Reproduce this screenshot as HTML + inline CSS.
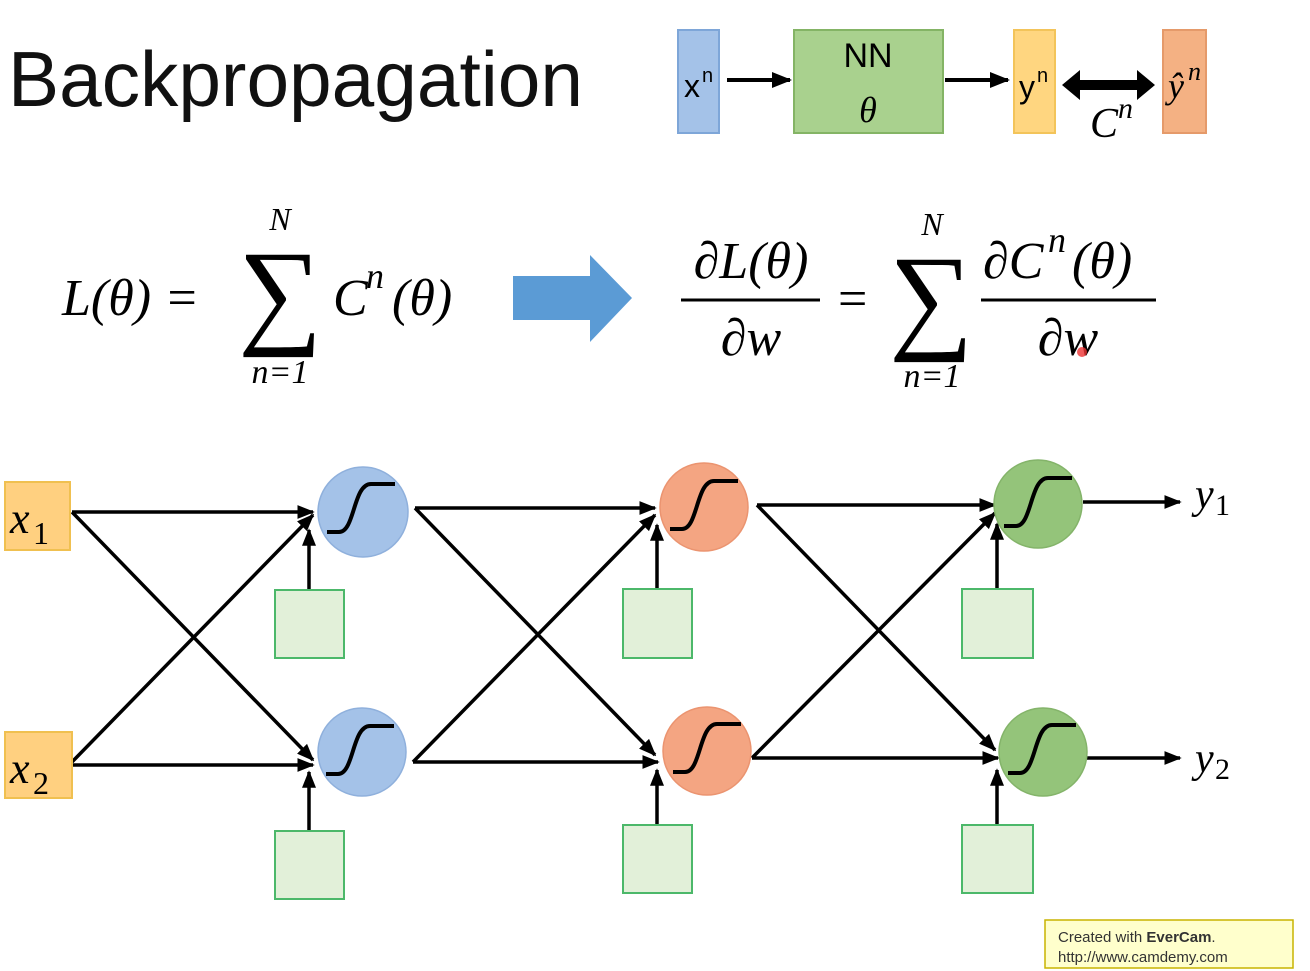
<!DOCTYPE html>
<html><head><meta charset="utf-8"><style>
html,body{margin:0;padding:0;background:#fff;width:1310px;height:971px;overflow:hidden}
svg{display:block}
.m{font-family:"Liberation Serif",serif;font-style:italic}
</style></head><body>
<svg width="1310" height="971" viewBox="0 0 1310 971" xmlns="http://www.w3.org/2000/svg">
<defs>
<marker id="a" viewBox="0 0 10 10" refX="9" refY="5" markerWidth="5" markerHeight="5" orient="auto"><path d="M0,1 L10,5 L0,9 z" fill="#000"/></marker>
<g id="sig"><path d="M-36,22 L-24,22 C-8,22 -10,-26 8,-26 L32,-26" fill="none" stroke="#000" stroke-width="4"/></g>
</defs>
<text x="8" y="106" font-family="Liberation Sans, sans-serif" font-size="78" textLength="575" lengthAdjust="spacingAndGlyphs" fill="#111">Backpropagation</text>

<!-- top diagram -->
<rect x="678" y="30" width="41" height="103" fill="#a4c2e8" stroke="#7ea6d8" stroke-width="2"/>
<text x="684" y="97" font-family="Liberation Sans, sans-serif" font-size="32">x</text><text x="702" y="82" font-family="Liberation Sans, sans-serif" font-size="20">n</text>
<rect x="794" y="30" width="149" height="103" fill="#a9d18e" stroke="#84b465" stroke-width="2"/>
<text x="868" y="67" text-anchor="middle" font-family="Liberation Sans, sans-serif" font-size="34">NN</text>
<text x="868" y="122" text-anchor="middle" class="m" font-size="36">θ</text>
<rect x="1014" y="30" width="41" height="103" fill="#ffd680" stroke="#f3c45a" stroke-width="2"/>
<text x="1019" y="98" font-family="Liberation Sans, sans-serif" font-size="32">y</text><text x="1037" y="82" font-family="Liberation Sans, sans-serif" font-size="20">n</text>
<rect x="1163" y="30" width="43" height="103" fill="#f4b183" stroke="#e59a6a" stroke-width="2"/>
<text x="1168" y="98" class="m" font-size="36">ŷ</text><text x="1188" y="80" class="m" font-size="26">n</text>
<line x1="727" y1="80" x2="790" y2="80" stroke="#000" stroke-width="4" marker-end="url(#a)"/>
<line x1="945" y1="80" x2="1008" y2="80" stroke="#000" stroke-width="4" marker-end="url(#a)"/>
<path d="M1062,85 L1080,70 L1080,80 L1137,80 L1137,70 L1155,85 L1137,100 L1137,90 L1080,90 L1080,100 z" fill="#000"/>
<text x="1090" y="137" class="m" font-size="42">C</text><text x="1118" y="118" class="m" font-size="30">n</text>

<!-- left equation -->
<text x="62" y="315" class="m" font-size="52">L(θ) =</text>
<text x="280" y="230" text-anchor="middle" class="m" font-size="32">N</text>
<text x="280" y="332" text-anchor="middle" font-family="Liberation Serif, serif" font-size="118">∑</text>
<text x="280" y="383" text-anchor="middle" class="m" font-size="34">n=1</text>
<text x="333" y="315" class="m" font-size="52">C</text><text x="366" y="288" class="m" font-size="36">n</text><text x="392" y="315" class="m" font-size="52">(θ)</text>

<!-- blue arrow -->
<path d="M513,276 L590,276 L590,255 L632,298 L590,342 L590,320 L513,320 z" fill="#5b9bd5"/>

<!-- right equation -->
<text x="751" y="278" text-anchor="middle" class="m" font-size="52">∂L(θ)</text>
<line x1="681" y1="300" x2="820" y2="300" stroke="#000" stroke-width="3"/>
<text x="751" y="355" text-anchor="middle" class="m" font-size="52">∂w</text>
<text x="838" y="316" font-family="Liberation Serif, serif" font-size="52">=</text>
<text x="932" y="235" text-anchor="middle" class="m" font-size="32">N</text>
<text x="931" y="337" text-anchor="middle" font-family="Liberation Serif, serif" font-size="118">∑</text>
<text x="932" y="387" text-anchor="middle" class="m" font-size="34">n=1</text>
<text x="983" y="278" class="m" font-size="52">∂C</text><text x="1048" y="252" class="m" font-size="36">n</text><text x="1072" y="278" class="m" font-size="52">(θ)</text>
<line x1="981" y1="300" x2="1156" y2="300" stroke="#000" stroke-width="3"/>
<text x="1068" y="355" text-anchor="middle" class="m" font-size="52">∂w</text>
<circle cx="1082" cy="352" r="5" fill="#e33" opacity="0.8"/>

<!-- network -->
<g stroke="#000" stroke-width="3.5" fill="none" marker-end="url(#a)">
<line x1="72" y1="512" x2="313" y2="512"/>
<line x1="72" y1="512" x2="313" y2="760"/>
<line x1="72" y1="765" x2="313" y2="765"/>
<line x1="72" y1="762" x2="313" y2="515"/>
<line x1="309" y1="590" x2="309" y2="530"/>
<line x1="309" y1="831" x2="309" y2="772"/>
<line x1="415" y1="508" x2="655" y2="508"/>
<line x1="415" y1="508" x2="655" y2="755"/>
<line x1="413" y1="762" x2="658" y2="762"/>
<line x1="413" y1="762" x2="655" y2="515"/>
<line x1="657" y1="589" x2="657" y2="525"/>
<line x1="657" y1="825" x2="657" y2="770"/>
<line x1="757" y1="505" x2="995" y2="505"/>
<line x1="757" y1="505" x2="995" y2="750"/>
<line x1="752" y1="758" x2="998" y2="758"/>
<line x1="752" y1="758" x2="995" y2="513"/>
<line x1="997" y1="589" x2="997" y2="524"/>
<line x1="997" y1="825" x2="997" y2="770"/>
<line x1="1083" y1="502" x2="1180" y2="502"/>
<line x1="1087" y1="758" x2="1180" y2="758"/>
</g>
<rect x="5" y="482" width="65" height="68" fill="#ffd080" stroke="#f0c050" stroke-width="2"/>
<rect x="5" y="732" width="67" height="66" fill="#ffd080" stroke="#f0c050" stroke-width="2"/>
<text x="10" y="533" class="m" font-size="44">x</text><text x="33" y="544" font-family="Liberation Serif, serif" font-size="32">1</text>
<text x="10" y="783" class="m" font-size="44">x</text><text x="33" y="794" font-family="Liberation Serif, serif" font-size="32">2</text>
<g fill="#e2f0d9" stroke="#4cb86a" stroke-width="2">
<rect x="275" y="590" width="69" height="68"/><rect x="275" y="831" width="69" height="68"/>
<rect x="623" y="589" width="69" height="69"/><rect x="623" y="825" width="69" height="68"/>
<rect x="962" y="589" width="71" height="69"/><rect x="962" y="825" width="71" height="68"/>
</g>
<g stroke-width="1.5">
<circle cx="363" cy="512" r="45" fill="#a4c2e8" stroke="#8fb0dc"/>
<circle cx="362" cy="752" r="44" fill="#a4c2e8" stroke="#8fb0dc"/>
<circle cx="704" cy="507" r="44" fill="#f4a582" stroke="#eb9470"/>
<circle cx="707" cy="751" r="44" fill="#f4a582" stroke="#eb9470"/>
<circle cx="1038" cy="504" r="44" fill="#94c47a" stroke="#84b46a"/>
<circle cx="1043" cy="752" r="44" fill="#94c47a" stroke="#84b46a"/>
</g>
<use href="#sig" x="363" y="510"/><use href="#sig" x="362" y="752"/>
<use href="#sig" x="706" y="507"/><use href="#sig" x="709" y="750"/>
<use href="#sig" x="1040" y="504"/><use href="#sig" x="1044" y="751"/>
<text x="1195" y="508" class="m" font-size="42">y</text><text x="1215" y="515" font-family="Liberation Serif, serif" font-size="30">1</text>
<text x="1195" y="772" class="m" font-size="42">y</text><text x="1215" y="779" font-family="Liberation Serif, serif" font-size="30">2</text>

<rect x="1045" y="920" width="248" height="48" fill="#ffffcc" stroke="#c8b400" stroke-width="1.5"/>
<text x="1058" y="942" font-family="Liberation Sans, sans-serif" font-size="15" fill="#333">Created with <tspan font-weight="bold">EverCam</tspan>.</text>
<text x="1058" y="962" font-family="Liberation Sans, sans-serif" font-size="15" fill="#333">http://www.camdemy.com</text>
</svg>
</body></html>
